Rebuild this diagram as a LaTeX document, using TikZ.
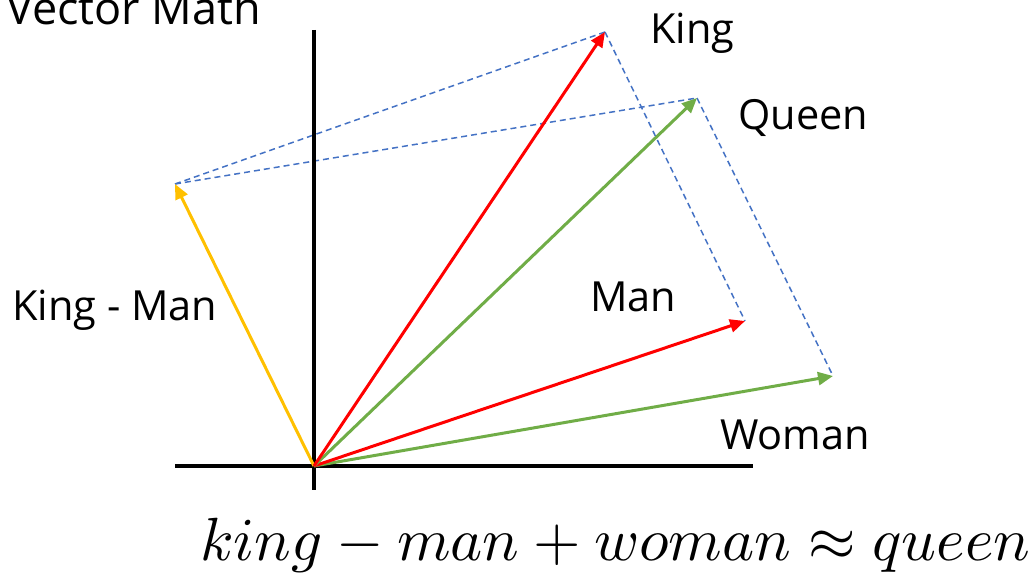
\documentclass[tikz,border=0pt]{standalone}
\usepackage[no-math]{fontspec}
\setmainfont{Open Sans}
\usetikzlibrary{arrows.meta}
\definecolor{vred}{HTML}{FF0000}
\definecolor{vgreen}{HTML}{70AD47}
\definecolor{vyellow}{HTML}{FFC000}
\definecolor{vblue}{HTML}{4472C4}
\begin{document}
\begin{tikzpicture}[x=1pt,y=-1pt,
  axis/.style={line width=3.2pt,black},
  vec/.style={line width=3pt,-{Triangle[length=15pt,width=13pt]}},
  guide/.style={vblue,line width=1.5pt,dash pattern=on 6pt off 4pt},
  lbl/.style={font=\fontsize{41.5}{48}\selectfont,anchor=base west,inner sep=0pt}]
\useasboundingbox (0,0) rectangle (1034,583);
\coordinate (O) at (314,466);
\coordinate (vt) at (314,30);
\coordinate (vb) at (314,490);
\coordinate (hl) at (175,466);
\coordinate (hr) at (753,466);
\coordinate (K) at (605,32);
\coordinate (Q) at (697,98);
\coordinate (M) at (745,321);
\coordinate (W) at (833,376);
\coordinate (D) at (175,184);
% guides
\draw[guide] (D) -- (K);
\draw[guide] (D) -- (Q);
\draw[guide] (K) -- (M);
\draw[guide] (Q) -- (W);
% axes
\draw[axis] (vt) -- (vb);
\draw[axis] (hl) -- (hr);
% vectors
\draw[vec,vyellow] (O) -- (D);
\draw[vec,vgreen] (O) -- (W);
\draw[vec,vred] (O) -- (M);
\draw[vec,vgreen] (O) -- (Q);
\draw[vec,vred] (O) -- (K);
% labels
\node[lbl,font=\fontsize{45}{52}\selectfont] (tVM) at (6,25) {Vector Math};
\node[lbl] (tK) at (650,44) {King};
\node[lbl] (tQ) at (738,130) {Queen};
\node[lbl] (tM) at (590,311) {Man};
\node[lbl] (tW) at (720,449) {Woman};
\node[lbl] (tKM) at (12,320) {King - Man};
\node[anchor=base west,inner sep=0pt] (eq) at (200,560) {\resizebox{830pt}{!}{$king-man+woman\approx queen$}};
\end{tikzpicture}
\end{document}
